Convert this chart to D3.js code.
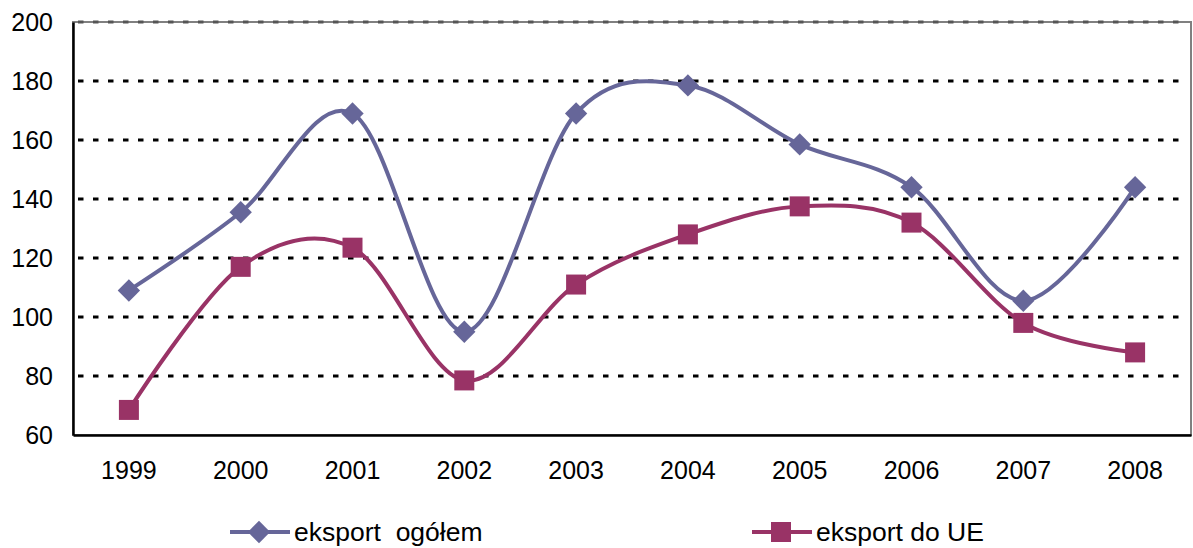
<!DOCTYPE html>
<html>
<head>
<meta charset="utf-8">
<script src="https://cdn.jsdelivr.net/npm/d3@7"></script>
<style>
  body { margin: 0; background: #fff; }
  svg text { font-family: "Liberation Sans", Arial, sans-serif; fill: #000; }
</style>
</head>
<body>
<svg id="chart" width="1193" height="548"></svg>
<script>
(function(){
    'use strict';

    // Chart data
    const years = ['1999', '2000', '2001', '2002', '2003', '2004', '2005', '2006', '2007', '2008'];
    const eksportOgolem = [109, 135.5, 169, 95, 169, 178.5, 158.5, 144, 105.5, 144];
    const eksportUE = [68.5, 117, 123.5, 78.5, 111, 128, 137.5, 132, 98, 88];
    const yTicks = [60, 80, 100, 120, 140, 160, 180, 200];
    const seriesNames = ['eksport  ogółem', 'eksport do UE'];

    const width = 1193;
    const height = 548;
    const margin = {top: 22, bottom: 113, left: 73, right: 2};
    const fontSize = 25;

    const svg = d3.select('#chart');

    const x = d3.scaleBand()
        .domain(years)
        .range([margin.left, width - margin.right]);

    const y = d3.scaleLinear()
        .domain([60, 200])
        .range([height - margin.bottom, margin.top]);

    // plot frame (top / right light grey)
    svg.append('rect')
        .attr('x', margin.left)
        .attr('y', margin.top)
        .attr('width', width - margin.right - margin.left)
        .attr('height', y(60) - margin.top)
        .attr('fill', 'none')
        .attr('stroke', '#808080')
        .attr('stroke-width', 2);

    // dashed gridlines
    svg.append('g')
        .selectAll('line')
        .data(yTicks.filter(d => d > 60))
        .enter()
        .append('line')
            .attr('x1', margin.left + 5)
            .attr('x2', width - margin.right - 4)
            .attr('y1', d => y(d))
            .attr('y2', d => y(d))
            .attr('stroke', d => d === 200 ? '#555' : '#000')
            .attr('stroke-width', 3)
            .attr('stroke-dasharray', '5.5,9.5');

    // axes
    function yAxis(g){
        g.attr('transform', `translate(${margin.left}, 0)`)
        .call(d3.axisLeft(y).tickValues(yTicks).tickSize(0).tickPadding(20));
        g.select('.domain').attr('stroke', '#000').attr('stroke-width', 2.5);
        g.selectAll('text').style('font-size', fontSize + 'px');
    }

    function xAxis(g){
        g.attr('transform', `translate(0, ${y(60)})`)
        .call(d3.axisBottom(x).tickSize(0).tickPadding(26));
        g.select('.domain').attr('stroke', '#000').attr('stroke-width', 2.5);
        g.selectAll('text').style('font-size', fontSize + 'px');
    }

    svg.append('g').call(yAxis);
    svg.append('g').call(xAxis);

    const cx = d => x(d) + x.bandwidth() / 2;
    const line = d3.line()
        .x(d => cx(d.year))
        .y(d => y(d.value))
        .curve(d3.curveCardinal.tension(0));

    const series = [
        {name: seriesNames[0], values: eksportOgolem, color: '#666699', size: 250, rotate: 45},
        {name: seriesNames[1], values: eksportUE, color: '#993366', size: 400, rotate: 0}
    ];

    series.forEach(s => {
        const pts = years.map((yr, i) => ({year: yr, value: s.values[i]}));
        svg.append('path')
            .datum(pts)
            .attr('d', line)
            .attr('fill', 'none')
            .attr('stroke', s.color)
            .attr('stroke-width', 4);
        svg.append('g')
            .selectAll('path')
            .data(pts)
            .enter()
            .append('path')
                .attr('transform', d => `translate(${cx(d.year)}, ${y(d.value)}) rotate(${s.rotate})`)
                .attr('d', d3.symbol().type(d3.symbolSquare).size(s.size))
                .attr('fill', s.color);
    });

    // legend
    const legendX = [230, 752];
    series.forEach((s, i) => {
        const g = svg.append('g').attr('transform', `translate(${legendX[i]}, 532)`);
        g.append('line')
            .attr('x1', 0).attr('x2', 60)
            .attr('stroke', s.color).attr('stroke-width', 4);
        g.append('path')
            .attr('transform', `translate(29, 0) rotate(${s.rotate})`)
            .attr('d', d3.symbol().type(d3.symbolSquare).size(s.size))
            .attr('fill', s.color);
        g.append('text')
            .attr('x', 64)
            .attr('dy', '0.35em')
            .style('font-size', '26.5px')
            .style('white-space', 'pre')
            .text(s.name);
    });
})();
</script>
</body>
</html>
